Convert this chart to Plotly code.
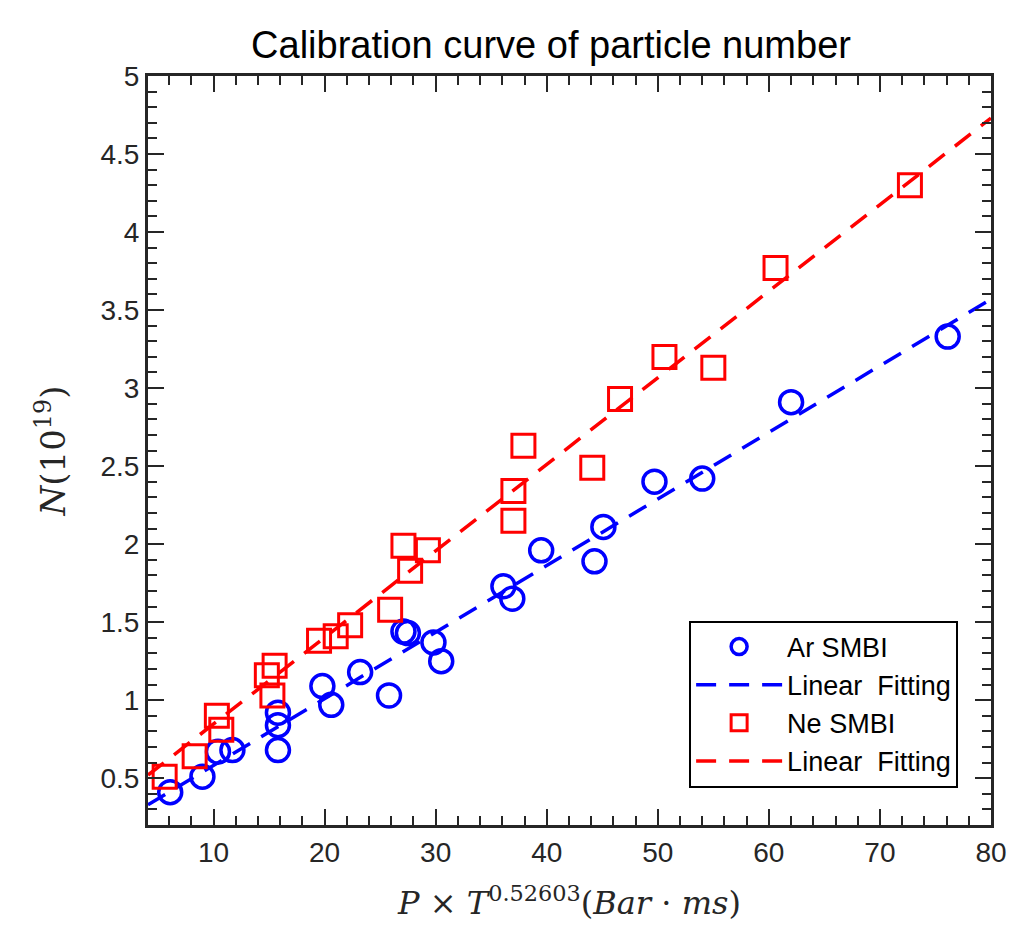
import plotly.graph_objects as go

# Ar SMBI data
ar_x = [6.1, 9.0, 10.4, 11.7, 15.8, 15.8, 15.8, 19.8, 20.6, 23.2, 25.8, 27.1, 27.5, 29.8, 30.5,
        36.1, 36.9, 39.5, 44.3, 45.1, 49.7, 54.0, 62.0, 76.1]
ar_y = [0.41, 0.51, 0.67, 0.68, 0.68, 0.84, 0.92, 1.09, 0.97, 1.18, 1.03, 1.44, 1.43, 1.37, 1.25,
        1.73, 1.65, 1.96, 1.89, 2.11, 2.40, 2.42, 2.91, 3.33]
# Ne SMBI data
ne_x = [5.6, 8.3, 10.3, 10.7, 14.8, 15.3, 15.5, 19.5, 21.0, 22.3, 25.9, 27.1, 27.7, 29.3,
        37.0, 37.0, 37.9, 44.1, 46.6, 50.6, 55.0, 60.6, 72.7]
ne_y = [0.51, 0.64, 0.90, 0.81, 1.16, 1.03, 1.22, 1.38, 1.41, 1.48, 1.58, 1.99, 1.83, 1.96,
        2.34, 2.15, 2.63, 2.49, 2.93, 3.20, 3.13, 3.77, 4.30]
# Linear fitting end points
ar_fit_x = [4.1, 80.0]
ar_fit_y = [0.33, 3.57]
ne_fit_x = [4.1, 80.0]
ne_fit_y = [0.52, 4.73]

x_ticks = [10, 20, 30, 40, 50, 60, 70, 80]
y_ticks = [0.5, 1, 1.5, 2, 2.5, 3, 3.5, 4, 4.5, 5]

BLUE = "#0000FF"
RED = "#FF0000"
AX = "#262626"
SERIF = "DejaVu Serif, Liberation Serif, serif"

fig = go.Figure()
fig.add_trace(go.Scatter(x=ar_x, y=ar_y, mode="markers", name="Ar SMBI",
                         marker=dict(symbol="circle-open", size=23, color=BLUE,
                                     line=dict(width=3.5, color=BLUE))))
fig.add_trace(go.Scatter(x=ar_fit_x, y=ar_fit_y, mode="lines", name="Linear  Fitting",
                         line=dict(color=BLUE, width=3.5, dash="20px,13px")))
fig.add_trace(go.Scatter(x=ne_x, y=ne_y, mode="markers", name="Ne SMBI",
                         marker=dict(symbol="square-open", size=23, color=RED,
                                     line=dict(width=3, color=RED))))
fig.add_trace(go.Scatter(x=ne_fit_x, y=ne_fit_y, mode="lines", name="Linear  Fitting",
                         line=dict(color=RED, width=3.5, dash="20px,13px")))

fig.update_layout(
    width=1019, height=928,
    margin=dict(l=148, r=23, t=76, b=101),
    paper_bgcolor="white", plot_bgcolor="white",
    font=dict(family="Liberation Sans, Arial, sans-serif", color=AX, size=28),
    title=dict(text="Calibration curve of particle number", x=551/1019, xanchor="center",
               y=1 - 45/928, yanchor="middle",
               font=dict(size=38, color="#000000")),
    showlegend=True,
    legend=dict(x=0.961, xanchor="right", y=0.05, yanchor="bottom",
                bgcolor="white", bordercolor="#000000", borderwidth=2,
                font=dict(size=27, color="#000000"),
                itemwidth=86),
)
fig.update_xaxes(range=[4.1, 80], tickmode="array", tickvals=x_ticks,
                 ticktext=[str(v) for v in x_ticks],
                 ticks="inside", ticklen=16, tickwidth=2, tickcolor=AX,
                 showline=True, linewidth=3, linecolor=AX, mirror="ticks",
                 showgrid=False, zeroline=False,
                 tickfont=dict(size=28, color=AX),
                 minor=dict(dtick=2, tick0=0, ticks="inside", ticklen=9, tickwidth=2, tickcolor=AX),
                 title=dict(text="<i>P</i> × <i>T</i><sup>0.52603</sup>(<i>Bar</i> · <i>ms</i>)",
                            font=dict(family=SERIF, size=32, color=AX),
                            standoff=26))
fig.update_yaxes(range=[0.2, 5], tickmode="array", tickvals=y_ticks,
                 ticktext=[("%g" % v) for v in y_ticks],
                 ticks="inside", ticklen=16, tickwidth=2, tickcolor=AX,
                 showline=True, linewidth=3, linecolor=AX, mirror="ticks",
                 showgrid=False, zeroline=False,
                 tickfont=dict(size=28, color=AX),
                 minor=dict(dtick=0.1, tick0=0, ticks="inside", ticklen=9, tickwidth=2, tickcolor=AX),
                 title=dict(text="<i>N</i>(10<sup>19</sup>)",
                            font=dict(family=SERIF, size=34, color=AX),
                            standoff=25))

fig.write_html("out.html")
